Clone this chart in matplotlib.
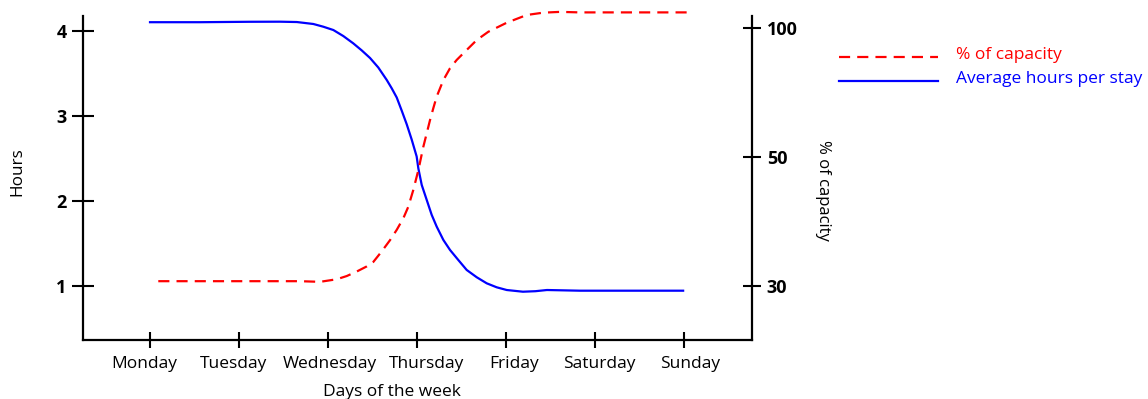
import numpy as np
import matplotlib
matplotlib.use("Agg")
import matplotlib.pyplot as plt
from matplotlib.transforms import ScaledTranslation
from matplotlib.legend_handler import HandlerLine2D

plt.rcParams['font.family'] = ['Open Sans', 'DejaVu Sans']

days = ["Monday", "Tuesday", "Wednesday", "Thursday", "Friday", "Saturday", "Sunday"]
hour_ticks = [1, 2, 3, 4]
pct_ticks = [30, 50, 100]
# position of the capacity ticks on the hours axis (the right axis is not linear)
pct_anchor_hours = [1.0, 2.51, 4.03]

# Average hours per stay (x = day index, y = hours)
hours_x = [0.0, 0.56, 1.12, 1.46, 1.65, 1.835, 1.947, 2.06, 2.172, 2.284, 2.378, 2.472,
           2.565, 2.66, 2.716, 2.772, 2.828, 2.884, 2.94, 2.996, 3.015, 3.053, 3.109,
           3.165, 3.221, 3.296, 3.371, 3.464, 3.558, 3.671, 3.783, 3.895, 4.008, 4.19,
           4.33, 4.46, 4.83, 5.99]
hours_y = [4.10, 4.10, 4.105, 4.106, 4.102, 4.079, 4.047, 4.008, 3.937, 3.851, 3.769, 3.679,
           3.567, 3.42, 3.322, 3.214, 3.06, 2.90, 2.72, 2.52, 2.38, 2.185, 2.009,
           1.833, 1.695, 1.538, 1.42, 1.302, 1.185, 1.099, 1.028, 0.981, 0.949, 0.929,
           0.935, 0.949, 0.941, 0.941]

# % of capacity
cap_x = [0.093, 0.90, 1.685, 1.910, 2.098, 2.210, 2.322, 2.435, 2.509, 2.601, 2.697, 2.772,
         2.846, 2.902, 2.958, 3.015, 3.071, 3.109, 3.146, 3.183, 3.221, 3.296, 3.371,
         3.446, 3.539, 3.671, 3.801, 4.008, 4.233, 4.419, 4.607, 4.831, 6.045]
cap_y = [30.7, 30.7, 30.7, 30.6, 31.0, 31.5, 32.2, 33.0, 33.7, 35.3, 37.1, 38.7,
         40.5, 42.3, 44.9, 48.0, 54.1, 59.3, 64.4, 69.0, 73.5, 79.9, 84.5,
         87.7, 90.9, 95.4, 98.6, 102.1, 105.1, 106.0, 106.3, 106.1, 106.1]

# horizontal nudges (px) of the day labels as placed in the original
day_label_nudge = [-5.6, -5.6, 2.2, 10.0, 7.7, 4.0, 6.2]

# piecewise-linear scale for the right axis
_p = np.array(pct_ticks, float)
_h = np.array(pct_anchor_hours, float)
_lo_slope = (_h[1] - _h[0]) / (_p[1] - _p[0])
_hi_slope = (_h[2] - _h[1]) / (_p[2] - _p[1])
P_EXT = np.concatenate([[-1000.0], _p, [2000.0]])
H_EXT = np.concatenate([[_h[0] - 1030 * _lo_slope], _h, [_h[2] + 1900 * _hi_slope]])


def fwd(v):
    return np.interp(v, P_EXT, H_EXT)


def inv(v):
    return np.interp(v, H_EXT, P_EXT)


class LoweredLine(HandlerLine2D):
    def create_artists(self, legend, orig_handle, xdescent, ydescent, width,
                       height, fontsize, trans):
        arts = super().create_artists(legend, orig_handle, xdescent, ydescent,
                                      width, height, fontsize, trans)
        for a in arts:
            a.set_ydata(np.asarray(a.get_ydata()) - 3.0)
        return arts


fig = plt.figure(figsize=(11.48, 3.99), dpi=100)
ax = fig.add_axes([0.0726, 0.1479, 0.6553 - 0.0726, 0.9599 - 0.1479])
ax2 = ax.twinx()

ylo, yhi = 0.361, 4.173
ax.set_ylim(ylo, yhi)
ax.set_xlim(-0.749, 6.767)

ax2.set_yscale('function', functions=(fwd, inv))
ax2.set_ylim(inv(ylo), inv(yhi))

ln_cap, = ax2.plot(cap_x, cap_y, color='#ff0000', lw=1.6, dashes=(5.0, 3.2),
                   label='% of capacity', clip_on=False)
ln_hours, = ax.plot(hours_x, hours_y, color='#0000ff', lw=1.6,
                    label='Average hours per stay', clip_on=False)

for a in (ax, ax2):
    a.spines['top'].set_visible(False)
    for s in a.spines.values():
        s.set_linewidth(1.6)
ax2.spines['left'].set_visible(False)
ax2.spines['bottom'].set_visible(False)
ax.spines['right'].set_visible(False)

ax.tick_params(axis='y', direction='inout', length=16, width=1.5, pad=4)
ax.tick_params(axis='x', direction='inout', length=12, width=1.5, pad=5.5)
ax2.tick_params(axis='y', direction='inout', length=13, width=1.5, pad=4)

ax.set_xticks(range(len(days)))
ax.set_xticklabels(days, fontsize=12.5)
ax.set_yticks(hour_ticks)
ax.set_yticklabels([str(t) for t in hour_ticks], fontsize=13, fontweight='bold')
ax2.set_yticks(pct_ticks)
ax2.set_yticklabels([str(t) for t in pct_ticks], fontsize=13, fontweight='bold')
ax2.yaxis.set_minor_locator(matplotlib.ticker.NullLocator())

ax.set_xlabel('Days of the week', fontsize=12.5)
ax.xaxis.set_label_coords(0.461, -0.137)
ax.set_ylabel('Hours', fontsize=12.3)
ax.yaxis.set_label_coords(-0.086, 0.519)
ax2.set_ylabel('% of capacity', fontsize=12, rotation=-90)
ax2.yaxis.set_label_coords(1.1175, 0.463)

leg = fig.legend(handles=[ln_cap, ln_hours], loc='upper left',
                 bbox_to_anchor=(0.7176, 0.923), frameon=False, fontsize=12.5,
                 handlelength=5.7, handletextpad=1.0, labelspacing=0.47,
                 labelcolor='linecolor',
                 handler_map={ln_cap: LoweredLine(), ln_hours: LoweredLine()})

fig.canvas.draw()
for tick, dx in zip(ax.xaxis.get_major_ticks(), day_label_nudge):
    lbl = tick.label1
    lbl.set_transform(lbl.get_transform() + ScaledTranslation(dx / 100, 0, fig.dpi_scale_trans))

fig.savefig('out.png', dpi=100)
